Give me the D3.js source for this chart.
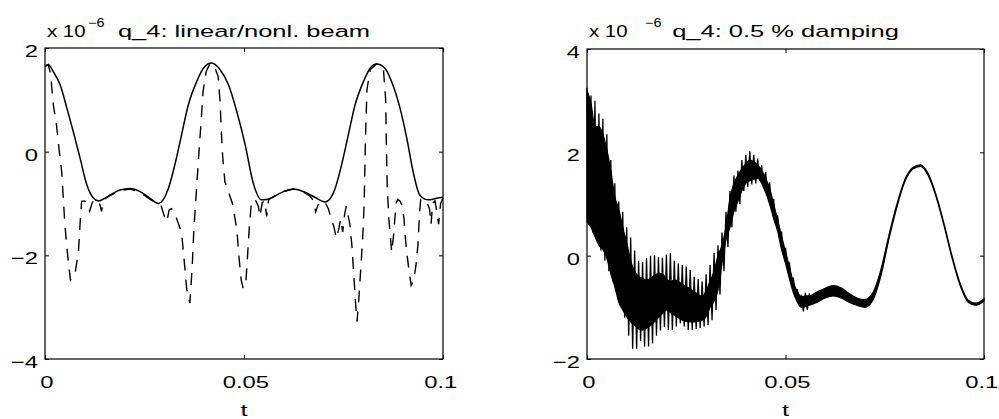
<!DOCTYPE html>
<html>
<head>
<meta charset="utf-8">
<script src="https://cdn.jsdelivr.net/npm/d3@7"></script>
<style>
body { margin: 0; background: #fff; }
svg { display: block; font-family: "Liberation Sans", Arial, Helvetica, sans-serif; }
</style>
</head>
<body>
<svg id="chart" width="999" height="419"></svg>
<script>
// ---- data (q_4 in units of 1e-6) ----
var tTicks = [0, 0.05, 0.1];
var tTickLabels = ['0', '0.05', '0.1'];
var leftTicksY = [-4, -2, 0, 2];
var leftTickLabels = ['\u22124', '\u22122', '0', '2'];
var rightTicksY = [-2, 0, 2, 4];
var rightTickLabels = ['\u22122', '0', '2', '4'];

// linear beam (solid)
var linearT = [0, 0.0008, 0.0021, 0.0038, 0.0055, 0.0071, 0.0088, 0.0105, 0.0121, 0.0134,
	0.0150, 0.0163, 0.0188, 0.0214, 0.0239, 0.0264, 0.0285, 0.0310, 0.0326, 0.0343,
	0.0360, 0.0381, 0.0398, 0.0419, 0.0440, 0.0461, 0.0482, 0.0503, 0.0523, 0.0544,
	0.0560, 0.0574, 0.0599, 0.0624, 0.0649, 0.0678, 0.0704, 0.0717, 0.0729, 0.0745,
	0.0762, 0.0779, 0.0800, 0.0817, 0.0833, 0.0854, 0.0871, 0.0892, 0.0909, 0.0925,
	0.0942, 0.0963, 0.0984, 0.1000];
var linearQ = [1.64, 1.68, 1.54, 1.29, 0.84, 0.39, -0.12, -0.64, -0.89, -0.95,
	-0.90, -0.84, -0.74, -0.71, -0.77, -0.90, -1.00, -0.71, -0.26, 0.32,
	0.90, 1.35, 1.61, 1.71, 1.58, 1.29, 0.77, 0.13, -0.60, -0.93,
	-0.92, -0.87, -0.77, -0.72, -0.77, -0.88, -0.97, -0.90, -0.71, -0.26,
	0.32, 0.90, 1.35, 1.61, 1.69, 1.61, 1.35, 0.84, 0.26, -0.39,
	-0.84, -0.93, -0.90, -0.88];

// nonlinear beam (dashed)
var nonlinT = [0, 0.0008, 0.0014, 0.0021, 0.0029, 0.0036, 0.0042, 0.0046, 0.0050, 0.0056,
	0.0064, 0.0075, 0.0084, 0.0088, 0.0092, 0.0100, 0.0106, 0.0112, 0.0118, 0.0124,
	0.0132, 0.0138, 0.0142, 0.0148, 0.0163, 0.0188, 0.0214, 0.0239, 0.0264, 0.0285,
	0.0292, 0.0300, 0.0306, 0.0312, 0.0318, 0.0330, 0.0343, 0.0348, 0.0352, 0.0356,
	0.0364, 0.0370, 0.0374, 0.0380, 0.0386, 0.0392, 0.0397, 0.0405, 0.0415, 0.0425,
	0.0435, 0.0440, 0.0443, 0.0446, 0.0452, 0.0471, 0.0482, 0.0487, 0.0493, 0.0498,
	0.0505, 0.0509, 0.0513, 0.0518, 0.0522, 0.0530, 0.0536, 0.0540, 0.0546, 0.0552,
	0.0557, 0.0562, 0.0574, 0.0599, 0.0624, 0.0649, 0.0665, 0.0675, 0.0680, 0.0686,
	0.0695, 0.0704, 0.0712, 0.0720, 0.0726, 0.0732, 0.0738, 0.0743, 0.0748, 0.0753,
	0.0757, 0.0762, 0.0766, 0.0771, 0.0776, 0.0781, 0.0784, 0.0788, 0.0793, 0.0798,
	0.0802, 0.0805, 0.0809, 0.0817, 0.0833, 0.0850, 0.0856, 0.0858, 0.0860, 0.0864,
	0.0871, 0.0876, 0.0882, 0.0886, 0.0892, 0.0898, 0.0902, 0.0907, 0.0913, 0.0920,
	0.0926, 0.0932, 0.0937, 0.0941, 0.0944, 0.0952, 0.0960, 0.0966, 0.0970, 0.0974,
	0.0980, 0.0985, 0.0989, 0.0994, 0.1000];
var nonlinQ = [1.64, 1.68, 1.50, 0.90, 0.51, 0.00, -0.39, -0.90, -1.41, -1.93,
	-2.48, -2.38, -1.93, -1.41, -0.96, -0.95, -1.02, -1.15, -1.00, -0.92,
	-0.95, -1.02, -1.15, -0.92, -0.85, -0.75, -0.72, -0.78, -0.92, -1.02,
	-1.05, -1.25, -1.35, -1.12, -1.10, -1.28, -1.55, -1.95, -2.30, -2.65,
	-2.92, -2.20, -1.50, -0.80, -0.10, 0.55, 1.15, 1.55, 1.70, 1.66,
	1.45, 0.95, 0.40, -0.05, -0.58, -1.00, -1.50, -2.00, -2.48, -2.64,
	-2.48, -2.00, -1.50, -1.03, -0.92, -0.95, -1.05, -1.25, -0.98, -0.95,
	-1.25, -0.92, -0.87, -0.77, -0.72, -0.78, -0.85, -0.95, -1.16, -1.03,
	-0.95, -0.98, -1.10, -1.32, -1.45, -1.67, -1.50, -1.30, -1.55, -1.20,
	-1.05, -1.25, -1.40, -1.80, -2.40, -3.00, -3.28, -2.90, -2.30, -1.70,
	-1.00, 0.20, 1.20, 1.58, 1.69, 1.62, 1.00, 0.00, -0.70, -1.30,
	-1.94, -1.60, -1.00, -0.92, -0.95, -1.05, -1.30, -1.80, -2.20, -2.58,
	-2.50, -2.20, -1.80, -1.20, -0.92, -0.93, -0.98, -1.10, -1.40, -1.00,
	-0.95, -1.20, -1.40, -1.00, -0.90];

// 0.5 % damping: outer extremes of the fast oscillation and the solid inner band
var dampT = [0, 0.001, 0.002, 0.003, 0.004, 0.005, 0.006, 0.007, 0.008, 0.009,
	0.010, 0.011, 0.012, 0.013, 0.014, 0.015, 0.016, 0.017, 0.018, 0.019,
	0.020, 0.021, 0.022, 0.023, 0.024, 0.025, 0.026, 0.027, 0.028, 0.029,
	0.030, 0.031, 0.032, 0.033, 0.034, 0.035, 0.036, 0.037, 0.038, 0.039,
	0.040, 0.041, 0.042, 0.043, 0.044, 0.045, 0.046, 0.047, 0.048, 0.049,
	0.050, 0.051, 0.052, 0.053, 0.054, 0.055, 0.056, 0.058, 0.060, 0.062,
	0.064, 0.066, 0.068, 0.070, 0.072, 0.074, 0.076, 0.078, 0.080, 0.082,
	0.084, 0.086, 0.088, 0.090, 0.092, 0.094, 0.096, 0.098, 0.100];
var dampHi = [3.25, 3.10, 3.00, 2.75, 2.65, 2.35, 1.85, 1.40, 1.05, 0.85,
	0.55, 0.35, 0.10, -0.10, -0.12, -0.05, 0.00, 0.01, -0.03, -0.04,
	0.02, 0.05, -0.10, -0.15, -0.18, -0.21, -0.28, -0.41, -0.45, -0.50,
	-0.36, -0.18, 0.05, 0.20, 0.45, 0.85, 1.25, 1.55, 1.65, 1.85,
	1.95, 2.02, 1.95, 1.88, 1.75, 1.62, 1.42, 1.10, 0.78, 0.45,
	0.15, -0.15, -0.45, -0.65, -0.76, -0.72, -0.73, -0.65, -0.58, -0.53,
	-0.58, -0.70, -0.79, -0.83, -0.68, -0.25, 0.40, 1.00, 1.48, 1.72,
	1.78, 1.60, 1.18, 0.62, 0.00, -0.52, -0.84, -0.90, -0.82];
var dampLo = [0.60, 0.45, 0.30, 0.10, -0.10, -0.30, -0.50, -0.63, -0.90, -1.20,
	-1.55, -1.80, -1.80, -1.65, -1.76, -1.76, -1.70, -1.55, -1.45, -1.38,
	-1.44, -1.44, -1.37, -1.31, -1.37, -1.44, -1.44, -1.42, -1.40, -1.37,
	-1.34, -1.25, -1.05, -0.75, -0.30, 0.17, 0.55, 0.85, 1.00, 1.25,
	1.33, 1.38, 1.40, 1.45, 1.30, 1.15, 0.92, 0.65, 0.40, 0.05,
	-0.22, -0.52, -0.80, -0.98, -1.08, -1.05, -1.02, -0.94, -0.86, -0.83,
	-0.86, -0.93, -0.99, -1.02, -0.90, -0.42, 0.28, 0.90, 1.40, 1.65,
	1.71, 1.52, 1.10, 0.54, -0.08, -0.60, -0.92, -0.98, -0.90];
var dampCoreHi = [3.20, 2.95, 2.50, 2.50, 2.35, 2.05, 1.65, 1.14, 0.90, 0.55,
	0.25, -0.10, -0.30, -0.40, -0.44, -0.47, -0.44, -0.38, -0.34, -0.35,
	-0.45, -0.50, -0.47, -0.50, -0.55, -0.60, -0.64, -0.70, -0.75, -0.79,
	-0.68, -0.50, -0.30, 0.00, 0.20, 0.55, 1.10, 1.40, 1.55, 1.68,
	1.78, 1.85, 1.82, 1.75, 1.65, 1.50, 1.30, 1.00, 0.70, 0.38,
	0.08, -0.22, -0.52, -0.70, -0.80, -0.78, -0.78, -0.70, -0.63, -0.58,
	-0.62, -0.73, -0.82, -0.85, -0.72, -0.28, 0.38, 0.98, 1.46, 1.70,
	1.76, 1.58, 1.16, 0.60, -0.02, -0.54, -0.86, -0.92, -0.84];
var dampCoreLo = [0.65, 0.55, 0.37, 0.20, 0.12, -0.05, -0.35, -0.60, -0.90, -1.05,
	-1.18, -1.28, -1.35, -1.42, -1.44, -1.40, -1.35, -1.28, -1.20, -1.12,
	-1.05, -1.10, -1.15, -1.20, -1.25, -1.27, -1.28, -1.28, -1.27, -1.25,
	-1.18, -1.00, -0.88, -0.66, -0.15, 0.30, 0.55, 0.85, 1.05, 1.25,
	1.40, 1.45, 1.48, 1.50, 1.40, 1.22, 1.00, 0.72, 0.48, 0.12,
	-0.15, -0.45, -0.72, -0.90, -1.00, -0.98, -0.96, -0.90, -0.82, -0.78,
	-0.82, -0.90, -0.96, -1.00, -0.86, -0.40, 0.30, 0.92, 1.42, 1.67,
	1.73, 1.54, 1.12, 0.56, -0.06, -0.58, -0.90, -0.96, -0.88];

// ---- drawing ----
var SX = 1.5;      // lettering in the picture is stretched sideways
var SX_TICK = 1.4; // digits a little less so
var FONT = 17;
var svg = d3.select('#chart');

function label(x, y, str, anchor, size, sx) {
	return svg.append('text')
		.attr('transform', 'translate(' + x + ',' + y + ') scale(' + (sx || SX) + ',1)')
		.attr('text-anchor', anchor)
		.attr('font-size', size)
		.attr('fill', '#000')
		.text(str);
}

function drawPanel(cfg) {
	var x = d3.scaleLinear().domain([0, 0.1]).range([cfg.left, cfg.right]);
	var y = d3.scaleLinear().domain(cfg.yDomain).range([cfg.bottom, cfg.top]);
	var g = svg.append('g');

	// bottom axis with labels, ticks pointing inward
	var ax = g.append('g')
		.attr('transform', 'translate(0,' + cfg.bottom + ')')
		.call(d3.axisBottom(x).tickValues(tTicks).tickSizeInner(-4).tickSizeOuter(0)
			.tickPadding(17).tickFormat(function(d, i) { return tTickLabels[i]; }));
	// left axis with labels
	var ay = g.append('g')
		.attr('transform', 'translate(' + cfg.left + ',0)')
		.call(d3.axisLeft(y).tickValues(cfg.yTicks).tickSizeInner(-4).tickSizeOuter(0)
			.tickPadding(5).tickFormat(function(d, i) { return cfg.yLabels[i]; }));
	// top / right: ticks only
	var at = g.append('g')
		.attr('transform', 'translate(0,' + cfg.top + ')')
		.call(d3.axisTop(x).tickValues(tTicks).tickSizeInner(-4).tickSizeOuter(0).tickFormat(''));
	var ar = g.append('g')
		.attr('transform', 'translate(' + cfg.right + ',0)')
		.call(d3.axisRight(y).tickValues(cfg.yTicks).tickSizeInner(-4).tickSizeOuter(0).tickFormat(''));

	[ax, ay, at, ar].forEach(function(a) {
		a.select('.domain').remove();
		a.attr('font-family', null).attr('font-size', FONT);
		a.selectAll('line').attr('stroke', '#000').attr('stroke-width', 1);
		a.selectAll('text').attr('fill', '#000').attr('transform', 'scale(' + SX_TICK + ',1)');
	});
	ay.selectAll('text').attr('dy', '0.5em');
	ax.selectAll('text').attr('dx', function(d, i) { return i === 2 ? -2 : 1; });

	g.append('rect')
		.attr('x', cfg.left).attr('y', cfg.top)
		.attr('width', cfg.right - cfg.left).attr('height', cfg.bottom - cfg.top)
		.attr('fill', 'none').attr('stroke', '#000').attr('stroke-width', 1.2);

	// titles
	var cx = (cfg.left + cfg.right) / 2;
	label(cx, 37, cfg.title, 'middle', FONT);
	label(cfg.left + 2, 37, 'x 10', 'start', FONT, 1.2);
	label(cfg.supX, 27, '\u22126', 'start', 12, 1.2);
	label(cx, 416, 't', 'middle', FONT);

	return {g: g, x: x, y: y};
}

var left = drawPanel({
	left: 45, right: 443, top: 48, bottom: 359,
	yDomain: [-4, 2], yTicks: leftTicksY, yLabels: leftTickLabels,
	title: 'q_4: linear/nonl. beam', supX: 88
});
var right = drawPanel({
	left: 587, right: 984, top: 49, bottom: 359,
	yDomain: [-2, 4], yTicks: rightTicksY, yLabels: rightTickLabels,
	title: 'q_4: 0.5 % damping', supX: 645
});

// left: linear (solid) and nonlinear (dashed)
var lineL = d3.line()
	.x(function(d) { return left.x(d[0]); })
	.y(function(d) { return left.y(d[1]); });

left.g.append('path')
	.datum(d3.zip(nonlinT, nonlinQ))
	.attr('d', lineL)
	.attr('fill', 'none')
	.attr('stroke', '#000')
	.attr('stroke-width', 1.4)
	.attr('stroke-dasharray', '12,9');

left.g.append('path')
	.datum(d3.zip(linearT, linearQ))
	.attr('d', lineL.curve(d3.curveMonotoneX))
	.attr('fill', 'none')
	.attr('stroke', '#000')
	.attr('stroke-width', 1.5);

// right: damped response, dense band + fast oscillation spikes
var damp = dampT.map(function(t, i) {
	return {t: t, hi: dampHi[i], lo: dampLo[i], chi: dampCoreHi[i], clo: dampCoreLo[i]};
});

right.g.append('path')
	.datum(damp)
	.attr('d', d3.area()
		.x(function(d) { return right.x(d.t); })
		.y0(function(d) { return right.y(d.clo); })
		.y1(function(d) { return right.y(d.chi); })
		.curve(d3.curveMonotoneX))
	.attr('fill', '#000')
	.attr('stroke', '#000')
	.attr('stroke-width', 1.2);

// spikes only where the oscillation is still wide (1 ms samples)
var zig = [];
damp.forEach(function(d, i) {
	if (d.t > 0.056) return;
	zig.push([d.t, d.hi]);
	if (damp[i + 1] && damp[i + 1].t <= 0.056) zig.push([(d.t + damp[i + 1].t) / 2, d.lo]);
});

right.g.append('path')
	.datum(zig)
	.attr('d', d3.line()
		.x(function(d) { return right.x(d[0]); })
		.y(function(d) { return right.y(d[1]); }))
	.attr('fill', 'none')
	.attr('stroke', '#000')
	.attr('stroke-width', 1.3);
</script>
</body>
</html>
